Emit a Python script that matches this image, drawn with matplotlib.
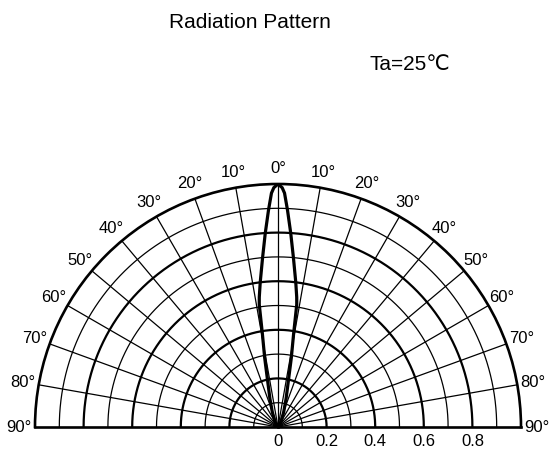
import numpy as np
import matplotlib
matplotlib.use("Agg")
import matplotlib.pyplot as plt

plt.rcParams['font.family'] = ['Liberation Sans', 'DejaVu Sans']

# ---- data ----
title = "Radiation Pattern"
condition = "Ta=25\u2103"
angle_deg = [0, 1.0, 1.6, 2.5, 3.75, 5.2, 7.0, 8.2, 8.7, 9.5, 10.9, 12.8, 16, 20.8, 30, 45, 90]
intensity = [1.0, 0.985, 0.963, 0.894, 0.80, 0.70, 0.60, 0.54, 0.51, 0.39, 0.29, 0.19, 0.12, 0.066, 0.025, 0.005, 0.0]
angle_ticks = [0, 10, 20, 30, 40, 50, 60, 70, 80, 90]
r_ticks = [0, 0.2, 0.4, 0.6, 0.8]
r_tick_labels = ["0", "0.2", "0.4", "0.6", "0.8"]
r_circles = [0.1, 0.2, 0.3, 0.4, 0.5, 0.6, 0.7, 0.8, 0.9]

W, H = 549, 450
CX, CY, R = 278, 427, 243  # pixel layout (top-left origin)

fig = plt.figure(figsize=(W / 100, H / 100), dpi=100)
box_w, box_h = 4 * R, 2 * R
box_cy = CY - R / 2
ax = fig.add_axes([(CX - box_w / 2) / W, 1 - (box_cy + box_h / 2) / H,
                   box_w / W, box_h / H], projection='polar')
ax.set_theta_zero_location('N')
ax.set_theta_direction(-1)
ax.set_thetamin(-90)
ax.set_thetamax(90)
ax.set_rlim(0, 1.0)
ax.grid(False)
ax.set_xticks([])
ax.set_yticks([])
for s in ax.spines.values():
    s.set_linewidth(1.9)
    s.set_color('black')

th = np.radians(np.linspace(-90, 90, 721))
for r in r_circles:
    thick = abs(round(r * 10)) % 2 == 0
    ax.plot(th, np.full_like(th, r), color='black', lw=1.6 if thick else 0.9, zorder=2)

for a in range(-80, 90, 10):
    ax.plot([np.radians(a)] * 2, [0, 1.0], color='black', lw=0.9, zorder=2)

# lobe (symmetric)
ang = np.array(angle_deg)
inten = np.array(intensity)
full_ang = np.concatenate([-ang[::-1], ang[1:]])
full_int = np.concatenate([inten[::-1], inten[1:]])
ax.plot(np.radians(full_ang), full_int, color='black', lw=2.3, zorder=3,
        solid_joinstyle='round')

# angle labels
for a in angle_ticks:
    for sgn in ([1] if a == 0 else [-1, 1]):
        ax.text(np.radians(sgn * a), 1.065, f"{a}\u00b0", ha='center', va='center',
                fontsize=12, clip_on=False)

# radial labels below baseline (right side)
for r, lab in zip(r_ticks, r_tick_labels):
    x_fig = (CX + r * R) / W
    fig.text(x_fig, 1 - 442 / H, lab, ha='center', va='center', fontsize=12)

fig.text(250 / W, 1 - 28 / H, title, ha='center', va='baseline', fontsize=15)
fig.text(410 / W, 1 - 70 / H, condition, ha='center', va='baseline', fontsize=15)

fig.savefig("out.png", dpi=100, facecolor='white')
